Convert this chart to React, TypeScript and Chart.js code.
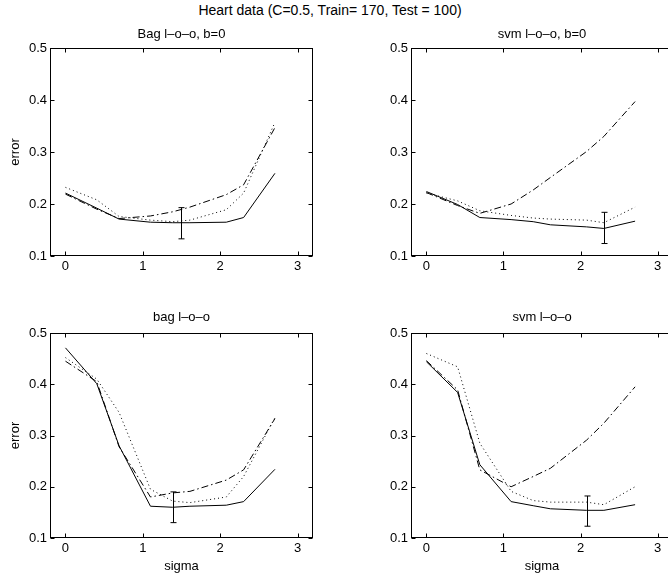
import React, { useEffect, useRef } from "react";
import { Chart, registerables } from "chart.js";

Chart.register(...registerables);

// ---------- data ----------
const SIGMA = [0, 0.405, 0.693, 1.099, 1.386, 1.609, 2.079, 2.303, 2.708];
const X_TICKS = [0, 1, 2, 3];
const Y_TICKS = [0.1, 0.2, 0.3, 0.4, 0.5];

const MAIN_TITLE = "Heart data (C=0.5, Train= 170, Test = 100)";

// Bag l-o-o, b=0
const BAGB0_SOLID = [0.221, 0.192, 0.171, 0.165, 0.164, 0.164, 0.165, 0.174, 0.259];
const BAGB0_DASHDOT = [0.219, 0.19, 0.172, 0.177, 0.185, 0.194, 0.218, 0.237, 0.347];
const BAGB0_DOTTED = [0.232, 0.208, 0.176, 0.169, 0.166, 0.169, 0.189, 0.221, 0.357];
const BAGB0_ERR = [1.5, 0.133, 0.193]; // x, low, high

// svm l-o-o, b=0
const SVMB0_SOLID = [0.224, 0.199, 0.174, 0.17, 0.166, 0.16, 0.156, 0.153, 0.167];
const SVMB0_DASHDOT = [0.222, 0.197, 0.182, 0.2, 0.227, 0.251, 0.301, 0.33, 0.397];
const SVMB0_DOTTED = [0.221, 0.206, 0.187, 0.178, 0.173, 0.171, 0.169, 0.164, 0.194];
const SVMB0_ERR = [2.303, 0.124, 0.184];

// bag l-o-o
const BAG_SOLID = [0.471, 0.401, 0.28, 0.162, 0.16, 0.162, 0.164, 0.171, 0.234];
const BAG_DASHDOT = [0.445, 0.405, 0.278, 0.18, 0.188, 0.191, 0.213, 0.233, 0.333];
const BAG_DOTTED = [0.452, 0.41, 0.345, 0.195, 0.172, 0.169, 0.18, 0.22, 0.335];
const BAG_ERR = [1.386, 0.13, 0.19];

// svm l-o-o
const SVM_SOLID = [0.444, 0.384, 0.243, 0.171, 0.163, 0.157, 0.154, 0.154, 0.165];
const SVM_DASHDOT = [0.446, 0.389, 0.233, 0.2, 0.22, 0.236, 0.291, 0.324, 0.395];
const SVM_DOTTED = [0.46, 0.434, 0.285, 0.191, 0.173, 0.17, 0.17, 0.165, 0.2];
const SVM_ERR = [2.079, 0.123, 0.182];

const FONT = "'Liberation Sans', Arial, Helvetica, sans-serif";
const FS = 13;

type PanelProps = {
  title: string;
  solid: number[];
  dashdot: number[];
  dotted: number[];
  err: number[];
  yTitle: boolean;
  xTitle: boolean;
  left: number;
  top: number;
  width: number;
  height: number;
  plotTop: number;
  titleY: number;
  xAxisHeight: number;
};

const framePlugin = {
  id: "matlabFrame",
  afterDatasetsDraw(chart: any) {
    const { ctx, chartArea, scales } = chart;
    const xs = scales.x;
    const ys = scales.y;
    const L = Math.round(chartArea.left) + 0.5;
    const R = Math.round(chartArea.right) - 0.5;
    const T = Math.round(chartArea.top) + 0.5;
    const B = Math.round(chartArea.bottom) - 0.5;
    const opts = chart.options.plugins.matlabFrame;
    ctx.save();
    ctx.strokeStyle = "#000";
    ctx.lineWidth = 1;
    ctx.setLineDash([]);
    ctx.strokeRect(L, T, R - L, B - T);
    const tl = 4;
    ctx.beginPath();
    X_TICKS.forEach((v) => {
      const px = Math.round(xs.getPixelForValue(v)) + 0.5;
      ctx.moveTo(px, B);
      ctx.lineTo(px, B - tl);
      ctx.moveTo(px, T);
      ctx.lineTo(px, T + tl);
    });
    Y_TICKS.forEach((v) => {
      const py = Math.round(ys.getPixelForValue(v)) + 0.5;
      ctx.moveTo(L, py);
      ctx.lineTo(L + tl, py);
      ctx.moveTo(R, py);
      ctx.lineTo(R - tl, py);
    });
    ctx.stroke();

    const err = opts.err as number[];
    if (err) {
      const ex = Math.round(xs.getPixelForValue(err[0])) + 0.5;
      const ylo = ys.getPixelForValue(err[1]);
      const yhi = ys.getPixelForValue(err[2]);
      ctx.beginPath();
      ctx.moveTo(ex, ylo);
      ctx.lineTo(ex, yhi);
      ctx.moveTo(ex - 3, ylo);
      ctx.lineTo(ex + 3, ylo);
      ctx.moveTo(ex - 3, yhi);
      ctx.lineTo(ex + 3, yhi);
      ctx.stroke();
    }

    // subplot title, centred over the axes
    ctx.fillStyle = "#000";
    ctx.font = `${FS}px ${FONT}`;
    ctx.textAlign = "center";
    ctx.textBaseline = "middle";
    ctx.fillText(opts.title, (chartArea.left + chartArea.right) / 2, opts.titleY);
    ctx.restore();
  },
};

function Panel(p: PanelProps) {
  const ref = useRef<HTMLCanvasElement | null>(null);
  useEffect(() => {
    if (!ref.current) return;
    const font = { family: FONT, size: FS, weight: "normal" as const };
    const mk = (arr: number[]) => SIGMA.map((x, i) => ({ x, y: arr[i] }));
    const chart = new Chart(ref.current, {
      type: "line",
      data: {
        datasets: [
          {
            label: "solid",
            data: mk(p.solid),
            borderColor: "#000",
            borderWidth: 1,
            pointRadius: 0,
            tension: 0,
          },
          {
            label: "dashdot",
            data: mk(p.dashdot),
            borderColor: "#000",
            borderWidth: 1,
            borderDash: [7, 3, 1.5, 3],
            pointRadius: 0,
            tension: 0,
          },
          {
            label: "dotted",
            data: mk(p.dotted),
            borderColor: "#000",
            borderWidth: 1,
            borderDash: [1, 3],
            pointRadius: 0,
            tension: 0,
          },
        ],
      },
      options: {
        responsive: false,
        animation: false,
        devicePixelRatio: 1,
        layout: { padding: { left: 0, right: 50, top: p.plotTop, bottom: 0 } },
        plugins: {
          legend: { display: false },
          tooltip: { enabled: false },
          title: { display: false },
          matlabFrame: { err: p.err, title: p.title, titleY: p.titleY },
        } as any,
        scales: {
          x: {
            type: "linear",
            min: -0.2,
            max: 3.2,
            grid: { display: false, drawTicks: false },
            border: { display: false },
            afterBuildTicks: (s: any) => {
              s.ticks = X_TICKS.map((v) => ({ value: v }));
            },
            afterFit: (s: any) => {
              s.height = p.xAxisHeight;
            },
            ticks: {
              color: "#000",
              font,
              padding: 3,
              maxRotation: 0,
              autoSkip: false,
              callback: (v: any) => String(v),
            },
            title: {
              display: p.xTitle,
              text: "sigma",
              color: "#000",
              font,
              padding: { top: 0, bottom: 5 },
            },
          },
          y: {
            type: "linear",
            min: 0.1,
            max: 0.5,
            grid: { display: false, drawTicks: false },
            border: { display: false },
            afterBuildTicks: (s: any) => {
              s.ticks = Y_TICKS.map((v) => ({ value: v }));
            },
            afterFit: (s: any) => {
              s.width = 50;
            },
            ticks: {
              color: "#000",
              font,
              padding: 3,
              autoSkip: false,
              callback: (v: any) => Number(v).toFixed(1),
            },
            title: {
              display: p.yTitle,
              text: "error",
              color: "#000",
              font,
              padding: { top: 8, bottom: 0 },
            },
          },
        },
      },
      plugins: [framePlugin],
    } as any);
    return () => chart.destroy();
  }, []);
  return (
    <canvas
      ref={ref}
      width={p.width}
      height={p.height}
      style={{ position: "absolute", left: p.left, top: p.top, width: p.width, height: p.height }}
    />
  );
}

export default function App() {
  const topCommon = { top: 0, height: 290, plotTop: 48, titleY: 34.5, xAxisHeight: 34, xTitle: false };
  const botCommon = { top: 290, height: 289, plotTop: 43, titleY: 27.5, xAxisHeight: 41, xTitle: true };
  return (
    <div
      style={{
        position: "absolute",
        left: 0,
        top: 0,
        width: 668,
        height: 579,
        overflow: "hidden",
        background: "#fff",
      }}
    >
      <div
        style={{
          position: "absolute",
          left: 0,
          top: 4,
          width: 660,
          textAlign: "center",
          fontFamily: FONT,
          fontSize: 14,
          lineHeight: "13px",
          color: "#000",
          whiteSpace: "nowrap",
        }}
      >
        {MAIN_TITLE}
      </div>
      <Panel
        {...topCommon}
        title="Bag l–o–o, b=0"
        solid={BAGB0_SOLID}
        dashdot={BAGB0_DASHDOT}
        dotted={BAGB0_DOTTED}
        err={BAGB0_ERR}
        yTitle={true}
        left={0}
        width={363}
      />
      <Panel
        {...topCommon}
        title="svm l–o–o, b=0"
        solid={SVMB0_SOLID}
        dashdot={SVMB0_DASHDOT}
        dotted={SVMB0_DOTTED}
        err={SVMB0_ERR}
        yTitle={false}
        left={361}
        width={362}
      />
      <Panel
        {...botCommon}
        title="bag l–o–o"
        solid={BAG_SOLID}
        dashdot={BAG_DASHDOT}
        dotted={BAG_DOTTED}
        err={BAG_ERR}
        yTitle={true}
        left={0}
        width={363}
      />
      <Panel
        {...botCommon}
        title="svm l–o–o"
        solid={SVM_SOLID}
        dashdot={SVM_DASHDOT}
        dotted={SVM_DOTTED}
        err={SVM_ERR}
        yTitle={false}
        left={361}
        width={362}
      />
    </div>
  );
}
